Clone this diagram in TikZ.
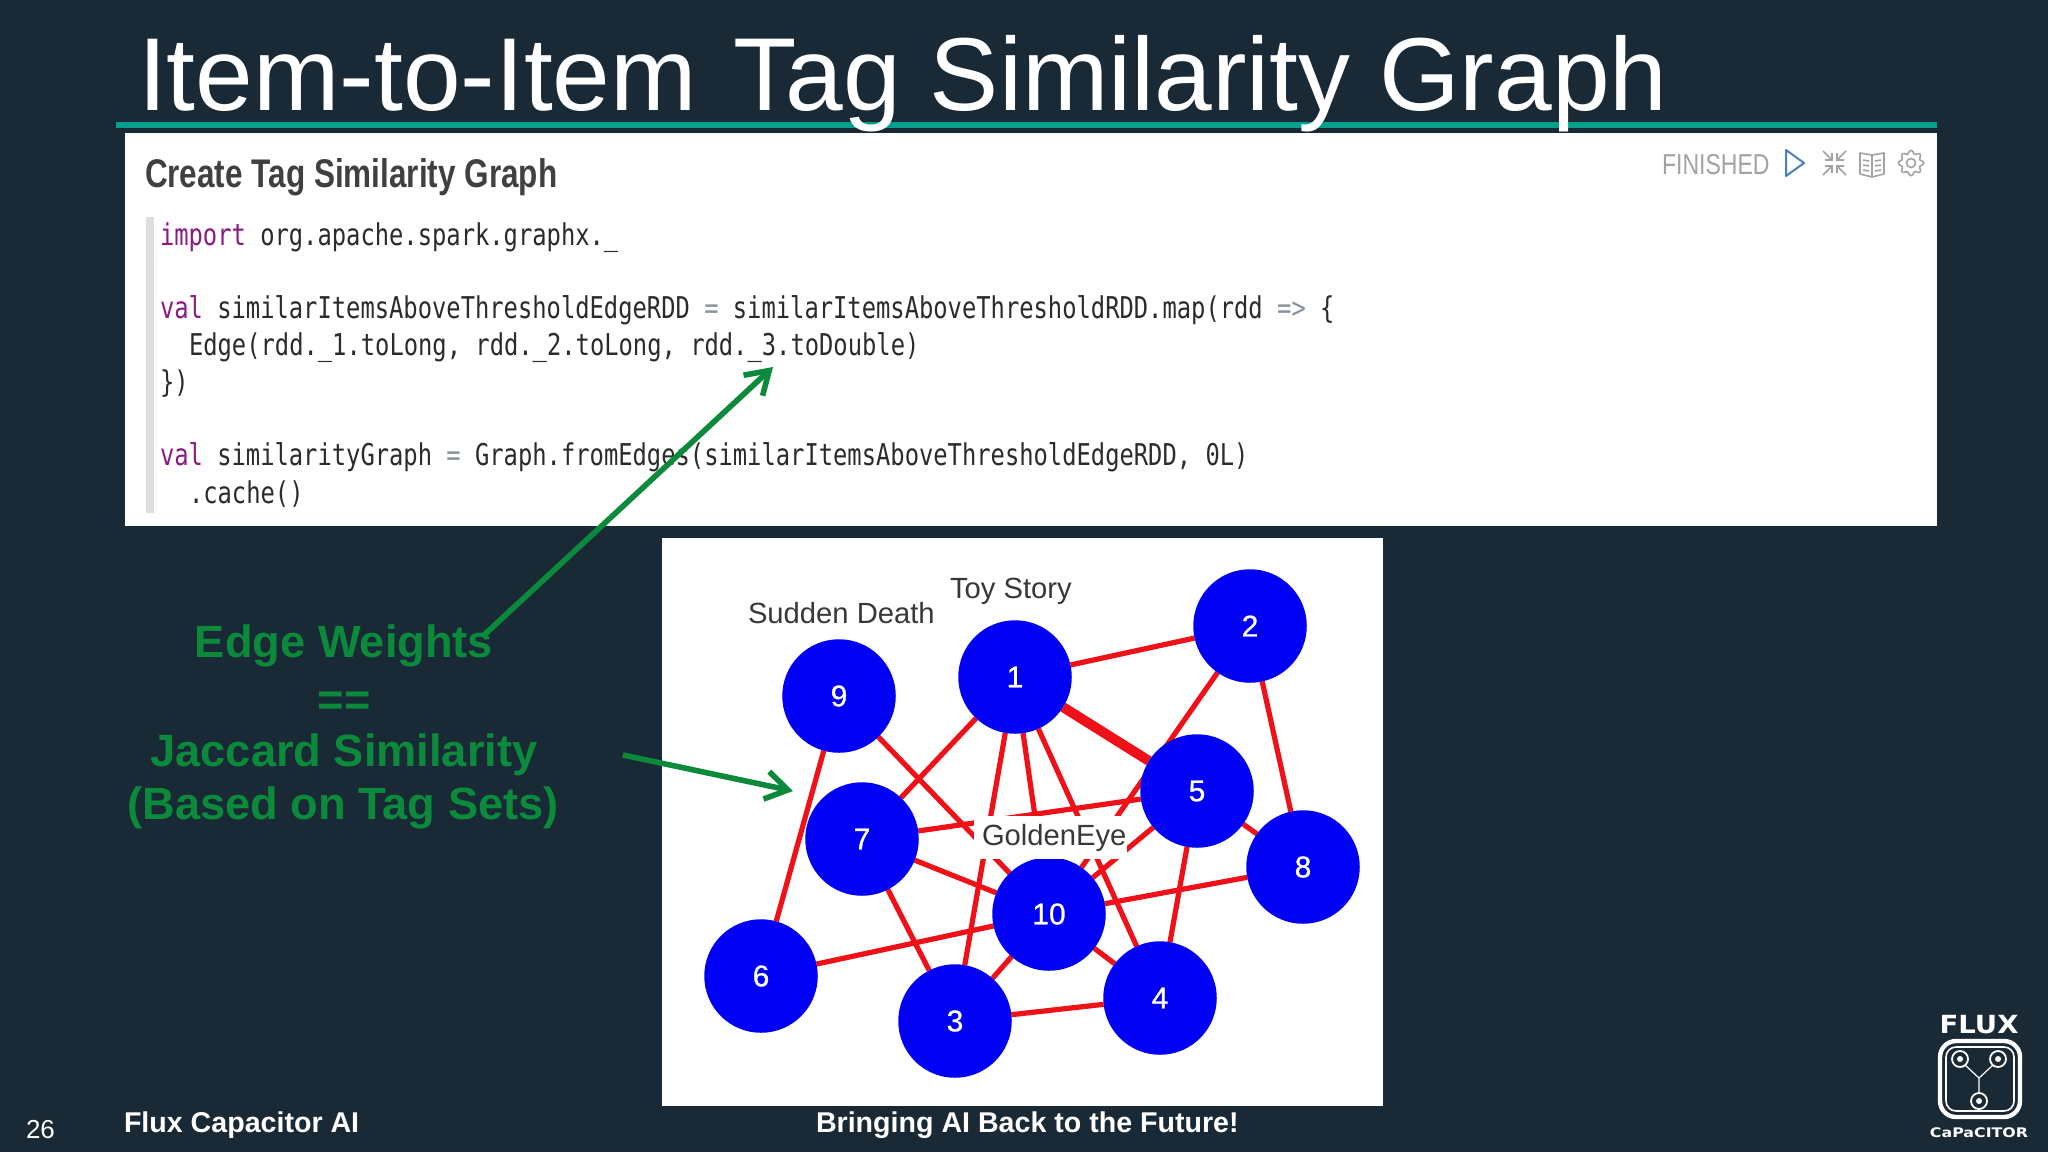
\documentclass[tikz,border=0pt]{standalone}
\usepackage{fontspec}
\setmainfont{Liberation Sans}
\newfontfamily\codefont[FakeStretch=0.793]{DejaVu Sans Mono}
\newfontfamily\headfont[FakeStretch=0.787]{Liberation Sans}
\newfontfamily\finfont[FakeStretch=0.80]{Liberation Sans}
\newfontfamily\digitfont[FakeBold=0.8]{Liberation Sans}
\newfontfamily\logofont[FakeStretch=1.1]{DejaVu Sans}
\newfontfamily\logosmall[FakeStretch=1.2]{DejaVu Sans}
\usetikzlibrary{arrows.meta}
\definecolor{bgcol}{HTML}{1A2936}
\definecolor{teal1}{HTML}{00A08C}
\definecolor{kw}{HTML}{8B1A84}
\definecolor{opgray}{HTML}{8A929C}
\definecolor{codeink}{HTML}{2B2B2B}
\definecolor{gr}{HTML}{0B8A3C}
\definecolor{iconblue}{HTML}{4A80BC}
\definecolor{icongray}{HTML}{A3A3A3}
\definecolor{edgered}{HTML}{F01018}
\definecolor{nodeblue}{HTML}{0000F5}
\pgfdeclarelayer{backlayer}
\pgfdeclarelayer{edgelayer}
\pgfsetlayers{backlayer,edgelayer,main}
\tikzset{
  x=0.5pt,y=-0.5pt,
  txt/.style={inner sep=0pt,outer sep=0pt,anchor=base west},
  ctr/.style={inner sep=0pt,outer sep=0pt,anchor=base},
  code/.style={txt,text=codeink,font=\fontsize{15}{18}\selectfont\codefont},
  green label/.style={ctr,text=gr,font=\fontsize{22.6}{27}\selectfont\bfseries},
  foot/.style={txt,text=white,font=\fontsize{14.3}{18}\selectfont\bfseries},
  vertex/.style={circle,fill=nodeblue,draw=none,minimum size=113.5*0.5pt,inner sep=0pt,outer sep=0pt,
     text=white,font=\fontsize{15}{18}\selectfont\digitfont},
  link/.style={draw=edgered,line width=2.6pt},
  heavy link/.style={draw=edgered,line width=5pt},
  gray label/.style={txt,text=black!78,font=\fontsize{14.6}{18}\selectfont},
  callout/.style={draw=gr,line width=2.8pt,-{Straight Barb[length=11pt,width=14pt,line width=2.8pt]}},
  icon/.style={draw=icongray,line width=0.8pt},
  logo/.style={draw=white,line width=1pt},
}
\begin{document}
\begin{tikzpicture}
\useasboundingbox (0,0) rectangle (2048,1152);
\begin{pgfonlayer}{backlayer}
  \fill[bgcol] (0,0) rectangle (2048,1152);
  \fill[white] (125,133) rectangle (1937,526);
  \fill[black!13] (146,217) rectangle (154,513);
  \fill[white] (662,538) rectangle (1383,1106);
  \fill[teal1] (116,122) rectangle (1937,128);
\end{pgfonlayer}

% title
\node[txt,text=white,font=\fontsize{51.85}{60}\selectfont] (title) at (138,110) {Item-to-Item\hspace{0.08em} Tag Similarity Graph};

% code panel
\node[txt,text=codeink!90,font=\fontsize{20}{24}\selectfont\headfont\bfseries] (head) at (145,187) {Create Tag Similarity Graph};
\node[code] (c1) at (160,245) {{\color{kw}import} org.apache.spark.graphx.\_};
\node[code] (c2) at (160,318) {{\color{kw}val} similarItemsAboveThresholdEdgeRDD {\color{opgray}=} similarItemsAboveThresholdRDD.map(rdd {\color{opgray}=>} \{};
\node[code] (c3) at (189,355) {Edge(rdd.\_1.toLong, rdd.\_2.toLong, rdd.\_3.toDouble)};
\node[code] (c4) at (160,392) {\})};
\node[code] (c5) at (160,465) {{\color{kw}val} similarityGraph {\color{opgray}=} Graph.fromEdges(similarItemsAboveThresholdEdgeRDD, 0L)};
\node[code] (c6) at (189,503) {.cache()};

% panel toolbar
\node[txt,text=icongray,font=\fontsize{14.4}{18}\selectfont\finfont] (fin) at (1662,174) {FINISHED};
\draw[draw=iconblue,line width=1pt,line join=round] (1786,150) -- (1804,163) -- (1786,176) -- cycle;
\draw[icon] (1823,151) -- (1832,160) (1832,153) -- (1832,160) -- (1825,160)
            (1846,151) -- (1837,160) (1837,153) -- (1837,160) -- (1844,160)
            (1823,175) -- (1832,166) (1832,173) -- (1832,166) -- (1825,166)
            (1846,175) -- (1837,166) (1837,173) -- (1837,166) -- (1844,166);
\draw[icon,line join=round] (1860,153) -- (1872,155) -- (1884,153) -- (1884,174) -- (1872,177) -- (1860,174) -- cycle (1872,155) -- (1872,177)
   (1863,160) -- (1869,161) (1863,165) -- (1869,166) (1863,170) -- (1869,171)
   (1875,161) -- (1881,160) (1875,166) -- (1881,165) (1875,171) -- (1881,170);
\draw[icon,shift={(1911,163)}] plot[domain=0:360,samples=113,smooth] (\x:{11+1.6*cos(8*\x)}) -- cycle;
\draw[icon] (1911,163) circle [radius=4.5];

% graph
\node[vertex] (n1) at (1015,677) {1};
\node[vertex] (n2) at (1250,626) {2};
\node[vertex] (n3) at (955,1021) {3};
\node[vertex] (n4) at (1160,998) {4};
\node[vertex] (n5) at (1197,791) {5};
\node[vertex] (n6) at (761,976) {6};
\node[vertex] (n7) at (862,839) {7};
\node[vertex] (n8) at (1303,867) {8};
\node[vertex] (n9) at (839,696) {9};
\node[vertex] (n10) at (1049,914) {10};

\begin{pgfonlayer}{edgelayer}
  \draw[link] (n1) -- (n2);
  \draw[link] (n1) -- (n7);
  \draw[link] (n1) -- (n3);
  \draw[link] (n1) -- (n10);
  \draw[link] (n1) -- (n4);
  \draw[heavy link] (n1) -- (n5);
  \draw[link] (n2) -- (n10);
  \draw[link] (n2) -- (n8);
  \draw[link] (n5) -- (n10);
  \draw[link] (n5) -- (n7);
  \draw[link] (n5) -- (n4);
  \draw[link] (n5) -- (n8);
  \draw[link] (n9) -- (n6);
  \draw[link] (n9) -- (n10);
  \draw[link] (n7) -- (n10);
  \draw[link] (n7) -- (n3);
  \draw[link] (n6) -- (n10);
  \draw[link] (n8) -- (n10);
  \draw[link] (n10) -- (n3);
  \draw[link] (n10) -- (n4);
  \draw[link] (n3) -- (n4);
\end{pgfonlayer}

\node[fill=white,draw=none,inner sep=0pt,minimum width=153*0.5pt,minimum height=43*0.5pt] (gebox) at (1050.5,837.5) {};
\node[gray label] (golden) at (982,845) {GoldenEye};
\node[gray label] (toy) at (950,598) {Toy Story};
\node[gray label] (sudden) at (748,623) {Sudden Death};

% callouts
\node[green label] (g1) at (344,657) {Edge Weights};
\node[green label] (g2) at (344,715) {==};
\node[green label] (g3) at (344,766) {Jaccard Similarity};
\node[green label] (g4) at (343,819) {(Based on Tag Sets)};
\coordinate (a1s) at (483,636);
\coordinate (a1e) at (773,367);
\coordinate (a2s) at (623,755);
\coordinate (a2e) at (793,791);
\draw[callout] (a1s) -- (a1e);
\draw[callout] (a2s) -- (a2e);

% footer
\node[txt,text=white,font=\fontsize{13}{16}\selectfont] (pg) at (26,1138) {26};
\node[foot] (f1) at (124,1132) {Flux Capacitor AI};
\node[foot] (f2) at (816,1132) {Bringing AI Back to the Future!};

% logo
\node[ctr,text=white,font=\fontsize{12.5}{14}\selectfont\bfseries\logofont] (lg1) at (1979,1033) {FLUX};
\draw[logo,line width=2.2pt,rounded corners=8pt] (1940,1041) rectangle (2020,1117);
\draw[logo,line width=0.8pt,rounded corners=5pt] (1946,1047) rectangle (2014,1111);
\coordinate (jn) at (1979,1078);
\draw[logo,line width=0.9pt] (1960,1059) circle [radius=8];
\draw[logo,line width=0.9pt] (1998,1059) circle [radius=8];
\draw[logo,line width=0.9pt] (1979,1101) circle [radius=8];
\fill[white] (1960,1059) circle [radius=3];
\fill[white] (1998,1059) circle [radius=3];
\fill[white] (1979,1101) circle [radius=3];
\draw[logo,line width=0.6pt] (1965,1065) -- (jn) -- (1993,1065) (jn) -- (1979,1093);
\node[ctr,text=white,font=\fontsize{6.6}{8}\selectfont\bfseries\logosmall] (lg2) at (1979,1137) {CaPaCITOR};
\end{tikzpicture}
\end{document}
